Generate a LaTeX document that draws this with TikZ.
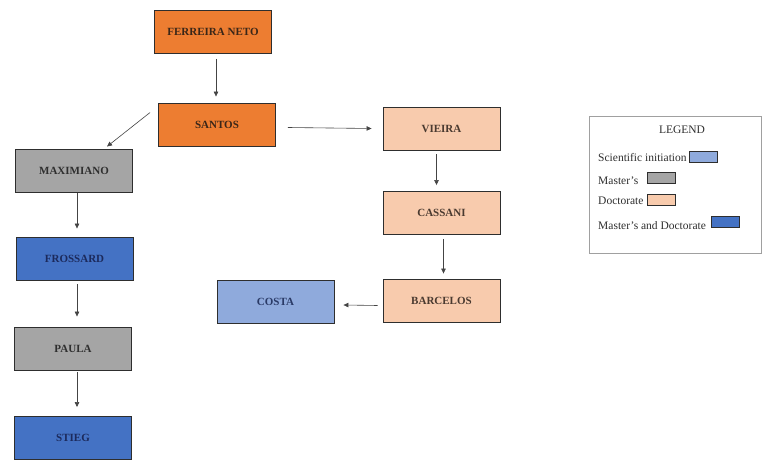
\documentclass[tikz,border=0pt]{standalone}
\usepackage{fontspec}
\setmainfont{Liberation Serif}
\usetikzlibrary{arrows.meta}
\definecolor{orng}{HTML}{ED7D31}
\definecolor{peach}{HTML}{F8CBAD}
\definecolor{gry}{HTML}{A5A5A5}
\definecolor{dblue}{HTML}{4472C4}
\definecolor{lblue}{HTML}{8FAADC}
\definecolor{bordc}{HTML}{2E2E2E}
\definecolor{arrc}{HTML}{444444}
\definecolor{txbrown}{HTML}{3A2618}
\definecolor{txpeach}{HTML}{4A3A30}
\definecolor{txgray}{HTML}{2F2F2F}
\definecolor{txnavy}{HTML}{1C2A5C}
\definecolor{txlnavy}{HTML}{2A3A66}
\definecolor{legbord}{HTML}{A0A0A0}
\begin{document}
\begin{tikzpicture}[x=1pt,y=-1pt,
  box/.style={draw=bordc, line width=0.9pt, minimum width=117pt, minimum height=43pt,
    inner sep=0pt, font=\fontsize{11}{13}\selectfont\bfseries},
  orangebox/.style={box, fill=orng, text=txbrown},
  peachbox/.style={box, fill=peach, text=txpeach},
  graybox/.style={box, fill=gry, text=txgray},
  dbluebox/.style={box, fill=dblue, text=txnavy},
  lbluebox/.style={box, fill=lblue, text=txlnavy},
  arr/.style={draw=arrc, line width=0.6pt, -{Triangle[length=5pt,width=4.5pt]}},
  legtext/.style={anchor=west, inner sep=0pt, text=txgray, font=\fontsize{11.5}{13}\selectfont},
  swatch/.style={draw=bordc, line width=0.8pt, minimum width=28pt, minimum height=11pt, inner sep=0pt}
]
\useasboundingbox[fill=white] (0,0) rectangle (764,460);

% nodes
\node[orangebox] (ferreira) at (213,32) {FERREIRA NETO};
\node[orangebox] (santos) at (217,124.5) {SANTOS};
\node[peachbox] (vieira) at (441.5,128.5) {VIEIRA};
\node[peachbox] (cassani) at (441.5,213) {CASSANI};
\node[peachbox] (barcelos) at (441.5,300.5) {BARCELOS};
\node[lbluebox] (costa) at (275.5,302) {COSTA};
\node[graybox] (maximiano) at (74,170.5) {MAXIMIANO};
\node[dbluebox] (frossard) at (74.5,258.5) {FROSSARD};
\node[graybox] (paula) at (73,348.5) {PAULA};
\node[dbluebox] (stieg) at (73,438) {STIEG};

% connectors
\draw[arr, shorten <=5pt, shorten >=6pt] ([xshift=3pt]ferreira.south) -- ([xshift=-1pt]santos.north);
\draw[arr] ([shift={(-8,-12)}]santos.west) -- ([shift={(33,-2)}]maximiano.north);
\draw[arr] ([shift={(12,3)}]santos.east) -- ([shift={(-11,0)}]vieira.west);
\draw[arr, shorten <=4pt, shorten >=6pt] ([xshift=-5pt]vieira.south) -- ([xshift=-5pt]cassani.north);
\draw[arr, shorten <=4pt, shorten >=5pt] ([xshift=2pt]cassani.south) -- ([xshift=2pt]barcelos.north);
\draw[arr] ([shift={(-5,5)}]barcelos.west) -- ([shift={(9,3)}]costa.east);
\draw[arr, shorten <=1pt, shorten >=8pt] ([xshift=3pt]maximiano.south) -- ([xshift=2.5pt]frossard.north);
\draw[arr, shorten <=4pt, shorten >=10pt] ([xshift=2.5pt]frossard.south) -- ([xshift=4pt]paula.north);
\draw[arr, shorten <=2pt, shorten >=9pt] ([xshift=4pt]paula.south) -- ([xshift=4pt]stieg.north);

% legend
\draw[legbord, line width=0.9pt] (589,116.5) rectangle (761,253.5);
\node[text=txgray, inner sep=0pt, font=\fontsize{11.5}{13}\selectfont] (legtitle) at (682,130) {LEGEND};
\node[legtext] (l1) at (598,158) {Scientific initiation};
\node[swatch, fill=lblue, anchor=west] (s1) at (689,156.5) {};
\node[legtext] (l2) at (598,181) {Master's};
\node[swatch, fill=gry, anchor=west] (s2) at (647,178) {};
\node[legtext] (l3) at (598,201) {Doctorate};
\node[swatch, fill=peach, anchor=west] (s3) at (647,200) {};
\node[legtext] (l4) at (598,226) {Master's and Doctorate};
\node[swatch, fill=dblue, anchor=west] (s4) at (711,221.5) {};
\end{tikzpicture}
\end{document}
